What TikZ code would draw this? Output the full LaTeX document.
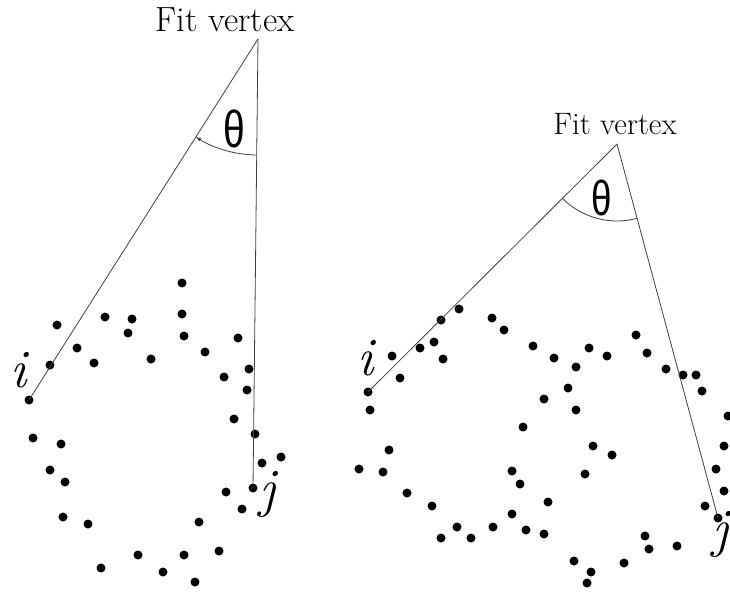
\documentclass[tikz,border=0pt]{standalone}
\usepackage{fontspec}
\newfontfamily\thetafont{Liberation Sans}
\usetikzlibrary{arrows}

\begin{document}
\begin{tikzpicture}[x=1pt, y=-1pt,
  dot/.style={circle, fill=black, inner sep=0pt, minimum size=9pt},
  ray/.style={line width=.8pt, black!75},
  vlabel/.style={font=\fontsize{#1}{#1}\selectfont, inner sep=0pt},
  ijlabel/.style={font=\fontsize{54}{54}\selectfont\itshape},
  thlabel/.style={font=\fontsize{#1}{#1}\selectfont\thetafont, xscale=.75}]
\useasboundingbox (0,0) rectangle (730,592);

%left cloud
\coordinate (lv) at (258,39);
\node[dot] at (29,400) (li) {};
\node[dot] at (253,488) (lj) {};
\foreach \x/\y [count=\k] in {182/283, 57/325, 105/317, 132/319, 182/314,
  128/333, 184/336, 238/338, 77/348, 50/365, 94/363, 151/359, 205/352,
  249/369, 224/377, 247/390, 234/419, 255/434, 33/438, 61/444, 262/463,
  281/457, 50/470, 65/482, 226/492, 242/509, 63/517, 88/524, 199/522,
  101/568, 138/555, 184/555, 219/551, 163/572, 195/582}
  \node[dot] at (\x,\y) (l\k) {};

\node[vlabel=35] at (225,20) (lfit) {Fit vertex};
\node[ijlabel] at (19,370) (ilab) {i};
\node[ijlabel] at (268,494) (jlab) {j};
\draw[ray] (lv) -- (li.center);
\draw[ray] (lv) -- (lj.center);
%angle at the fit vertex
\draw[ray, arrows={latex-}] ([shift={(122.4:116)}]lv) arc[start angle=122.4, end angle=90.6, radius=116];
\node[thlabel=52] at (234,129) (lth) {θ};

%right cloud
\coordinate (rv) at (617,144);
\node[dot] at (368,392) (ri) {};
\node[dot] at (718,518) (rj) {};
\foreach \x/\y [count=\k] in {459/309, 441/320, 492/318, 504/330, 392/356,
  420/348, 434/342, 443/359, 400/378, 370/410, 533/346, 554/358, 589/348,
  607/356, 576/367, 636/335, 647/353, 666/369, 683/375, 696/375, 702/391,
  568/388, 544/399, 576/410, 523/427, 728/416, 389/450, 593/446, 612/455,
  359/469, 383/472, 512/471, 520/484, 585/474, 724/446, 716/469, 724/491,
  407/493, 432/506, 548/502, 512/514, 705/506, 457/527, 441/538, 471/538,
  493/527, 526/530, 544/534, 645/536, 649/549, 677/546, 574/561, 591/572,
  587/583, 624/563}
  \node[dot] at (\x,\y) (r\k) {};

\node[vlabel=31] at (615,124) (rfit) {Fit vertex};
\node[ijlabel] at (366,358) (rilab) {i};
\node[ijlabel] at (721,534) (rjlab) {j};
\draw[ray] (rv) -- (ri.center);
\draw[ray] (rv) -- (rj.center);
%angle at the fit vertex
\draw[ray] ([shift={(135.1:77)}]rv) arc[start angle=135.1, end angle=74.9, radius=77];
\node[thlabel=49] at (602,198) (rth) {θ};

\end{tikzpicture}
\end{document}
